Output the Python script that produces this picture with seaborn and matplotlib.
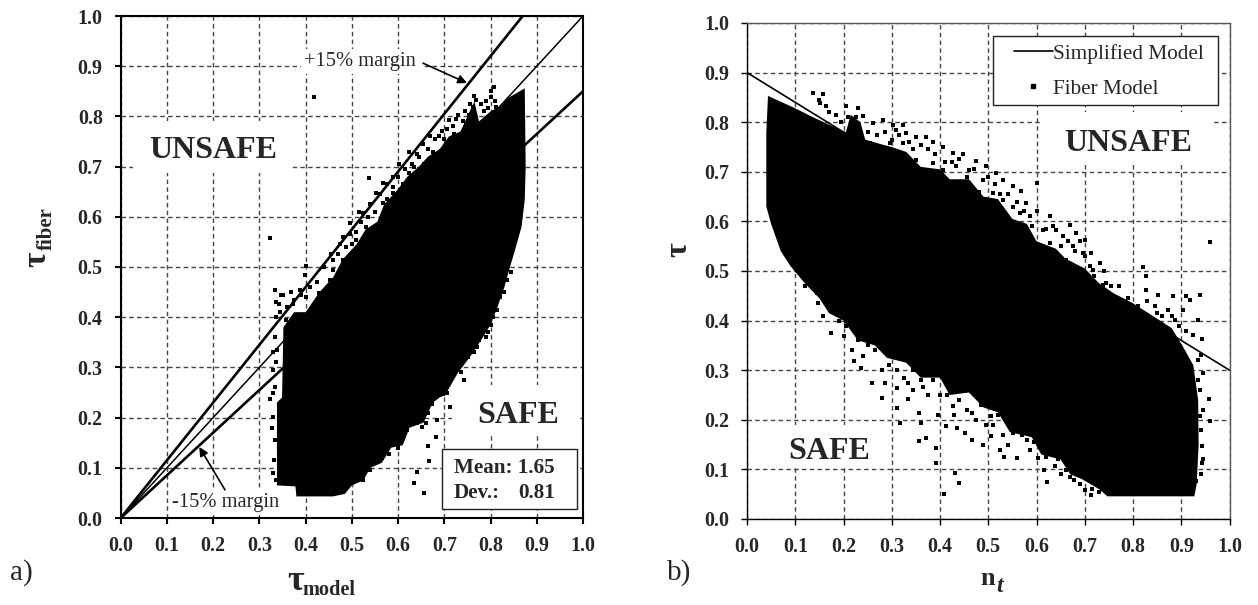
import matplotlib
matplotlib.use("Agg")
import matplotlib.pyplot as plt
from matplotlib.patches import Rectangle
import seaborn as sns

# panel a) outline of the solid black cloud
cloud_a_x = [0.338, 0.338, 0.349, 0.352, 0.375, 0.40, 0.43, 0.46, 0.48, 0.51, 0.53, 0.555, 0.57, 0.60, 0.62,
             0.645, 0.665, 0.69, 0.71, 0.735, 0.75, 0.765, 0.775, 0.80, 0.82, 0.835, 0.874, 0.876, 0.874, 0.867,
             0.853, 0.842, 0.83, 0.815, 0.80, 0.78, 0.755, 0.73, 0.705, 0.675, 0.655, 0.625, 0.61, 0.585, 0.565,
             0.54, 0.525, 0.50, 0.485, 0.459, 0.38, 0.378]
cloud_a_y = [0.065, 0.23, 0.24, 0.38, 0.41, 0.41, 0.45, 0.48, 0.515, 0.545, 0.575, 0.59, 0.625, 0.655, 0.68,
             0.70, 0.72, 0.735, 0.76, 0.77, 0.80, 0.83, 0.79, 0.81, 0.82, 0.835, 0.856, 0.70, 0.634, 0.58,
             0.534, 0.50, 0.46, 0.42, 0.385, 0.355, 0.32, 0.29, 0.25, 0.23, 0.19, 0.18, 0.145, 0.14, 0.11,
             0.10, 0.075, 0.065, 0.048, 0.043, 0.043, 0.063]

# panel a) loose points round the cloud
pts_a_x = [0.418, 0.538, 0.322, 0.808, 0.801, 0.811, 0.794, 0.768, 0.761, 0.754, 0.772, 0.729, 0.711, 0.696, 0.747,
           0.718, 0.668, 0.654, 0.689, 0.624, 0.603, 0.631, 0.646, 0.589, 0.624, 0.567, 0.553, 0.589, 0.567, 0.524,
           0.495, 0.531, 0.481, 0.509, 0.488, 0.459, 0.481, 0.401, 0.398, 0.452, 0.43, 0.333, 0.347, 0.369, 0.387,
           0.401, 0.342, 0.372, 0.334, 0.338, 0.33, 0.334, 0.322, 0.33, 0.334, 0.332, 0.335, 0.357, 0.813, 0.805,
           0.794, 0.77, 0.751, 0.736, 0.743, 0.728, 0.713, 0.685, 0.681, 0.664, 0.666, 0.641, 0.635, 0.655, 0.697,
           0.674, 0.651, 0.628, 0.604, 0.581, 0.558, 0.535, 0.527, 0.525, 0.481,
           0.36, 0.375, 0.39, 0.41, 0.425, 0.44, 0.46, 0.455, 0.47, 0.475, 0.495, 0.51, 0.50, 0.52, 0.515,
           0.535, 0.54, 0.55, 0.56, 0.575, 0.575, 0.59, 0.60, 0.61, 0.615, 0.635, 0.64, 0.655, 0.665, 0.675,
           0.68, 0.70, 0.705, 0.72, 0.725, 0.74, 0.745, 0.755, 0.765, 0.78, 0.785, 0.80, 0.81, 0.79,
           0.50, 0.51, 0.53, 0.54, 0.55, 0.565, 0.575, 0.59, 0.585, 0.60, 0.61, 0.62, 0.625, 0.64, 0.65,
           0.655, 0.665, 0.675, 0.69, 0.70, 0.715, 0.72, 0.735, 0.745, 0.76, 0.775, 0.785, 0.80, 0.81, 0.82,
           0.83, 0.835, 0.845, 0.79, 0.765, 0.705, 0.66, 0.61,
           0.335, 0.345, 0.33, 0.337, 0.328, 0.33, 0.33, 0.335, 0.35]
pts_a_y = [0.839, 0.678, 0.558, 0.859, 0.839, 0.819, 0.816, 0.833, 0.819, 0.803, 0.786, 0.803, 0.793, 0.77, 0.783,
           0.78, 0.76, 0.746, 0.76, 0.73, 0.706, 0.706, 0.72, 0.68, 0.687, 0.667, 0.647, 0.647, 0.627, 0.607,
           0.587, 0.58, 0.56, 0.554, 0.54, 0.514, 0.514, 0.501, 0.484, 0.474, 0.448, 0.454, 0.444, 0.451, 0.454,
           0.441, 0.427, 0.427, 0.36, 0.334, 0.294, 0.261, 0.238, 0.201, 0.155, 0.115, 0.075, 0.394, 0.414, 0.4,
           0.37, 0.341, 0.321, 0.291, 0.274, 0.244, 0.221, 0.195, 0.161, 0.143, 0.114, 0.092, 0.07, 0.05, 0.248,
           0.228, 0.181, 0.188, 0.155, 0.128, 0.125, 0.128, 0.095, 0.075, 0.055,
           0.42, 0.435, 0.445, 0.46, 0.47, 0.50, 0.495, 0.525, 0.525, 0.545, 0.565, 0.57, 0.545, 0.59, 0.61,
           0.60, 0.625, 0.61, 0.645, 0.635, 0.665, 0.66, 0.68, 0.665, 0.695, 0.70, 0.725, 0.705, 0.735, 0.73,
           0.755, 0.755, 0.775, 0.765, 0.795, 0.79, 0.81, 0.825, 0.84, 0.825, 0.81, 0.85, 0.83, 0.83,
           0.07, 0.085, 0.105, 0.095, 0.13, 0.12, 0.14, 0.15, 0.175, 0.14, 0.18, 0.175, 0.21, 0.19, 0.20,
           0.235, 0.21, 0.25, 0.245, 0.265, 0.28, 0.30, 0.315, 0.33, 0.345, 0.355, 0.38, 0.385, 0.43, 0.44,
           0.45, 0.475, 0.49, 0.36, 0.33, 0.25, 0.19, 0.16,
           0.40, 0.41, 0.33, 0.31, 0.18, 0.09, 0.25, 0.43, 0.445]

# panel b) outline of the solid black cloud
cloud_b_x = [0.0435, 0.10, 0.137, 0.17, 0.205, 0.215, 0.235, 0.245, 0.28, 0.30, 0.33, 0.36, 0.40, 0.42, 0.46,
             0.49, 0.52, 0.55, 0.58, 0.60, 0.64, 0.66, 0.70, 0.73, 0.76, 0.80, 0.84, 0.88, 0.905, 0.925,
             0.935, 0.936, 0.932, 0.927, 0.747, 0.73, 0.695, 0.67, 0.65, 0.61, 0.59, 0.545, 0.52, 0.49, 0.46,
             0.42, 0.40, 0.36, 0.33, 0.29, 0.265, 0.23, 0.20, 0.17, 0.15, 0.12, 0.09, 0.07, 0.05, 0.04, 0.04]
cloud_b_y = [0.853, 0.828, 0.81, 0.795, 0.78, 0.815, 0.80, 0.765, 0.755, 0.75, 0.74, 0.71, 0.705, 0.685, 0.685,
             0.65, 0.645, 0.605, 0.595, 0.56, 0.545, 0.525, 0.505, 0.475, 0.455, 0.435, 0.41, 0.385, 0.345, 0.31,
             0.24, 0.15, 0.07, 0.0457, 0.0457, 0.06, 0.08, 0.09, 0.12, 0.13, 0.165, 0.175, 0.215, 0.225, 0.255,
             0.25, 0.285, 0.285, 0.315, 0.325, 0.35, 0.36, 0.40, 0.415, 0.445, 0.475, 0.51, 0.54, 0.595, 0.63, 0.778]

# panel b) loose points round the cloud
pts_b_x = [0.137, 0.157, 0.151, 0.164, 0.185, 0.206, 0.23, 0.24, 0.22, 0.261, 0.282, 0.302, 0.323, 0.309, 0.33,
           0.351, 0.371, 0.385, 0.406, 0.427, 0.448, 0.475, 0.496, 0.517, 0.53, 0.551, 0.568, 0.579, 0.6, 0.627,
           0.669, 0.682, 0.7, 0.713, 0.731, 0.744, 0.772, 0.82, 0.827, 0.827, 0.851, 0.883, 0.91, 0.938, 0.96,
           0.254, 0.296, 0.323, 0.351, 0.385, 0.406, 0.434, 0.461, 0.461, 0.489, 0.51, 0.53, 0.551, 0.537, 0.565,
           0.586, 0.613, 0.641, 0.655, 0.627, 0.675, 0.696, 0.662, 0.717, 0.682, 0.738,
           0.147, 0.158, 0.174, 0.201, 0.217, 0.221, 0.24, 0.236, 0.26, 0.287, 0.279, 0.31, 0.31, 0.318, 0.334,
           0.357, 0.361, 0.357, 0.371, 0.392, 0.392, 0.431, 0.439, 0.408, 0.396, 0.412, 0.435, 0.451, 0.466, 0.49,
           0.505, 0.525, 0.533, 0.56, 0.552, 0.587, 0.603, 0.615, 0.622, 0.638, 0.661, 0.677, 0.7, 0.712, 0.334,
           0.365, 0.427, 0.466, 0.505, 0.942, 0.946, 0.958, 0.959, 0.942, 0.938, 0.934, 0.942, 0.938, 0.934, 0.931,
           0.927, 0.919, 0.888, 0.849, 0.817, 0.872, 0.903,
           0.15, 0.17, 0.195, 0.21, 0.225, 0.25, 0.27, 0.285, 0.30, 0.315, 0.335, 0.345, 0.36, 0.375, 0.39,
           0.41, 0.425, 0.44, 0.455, 0.47, 0.48, 0.50, 0.515, 0.525, 0.54, 0.56, 0.575, 0.59, 0.60, 0.62,
           0.635, 0.65, 0.665, 0.68, 0.69, 0.70, 0.71, 0.72, 0.74, 0.755, 0.77, 0.79, 0.81, 0.83, 0.845,
           0.86, 0.88, 0.895, 0.91, 0.925, 0.94, 0.935, 0.945, 0.94, 0.945, 0.94,
           0.12, 0.13, 0.145, 0.165, 0.19, 0.205, 0.23, 0.25, 0.265, 0.28, 0.295, 0.31, 0.325, 0.345, 0.345,
           0.36, 0.375, 0.385, 0.40, 0.415, 0.43, 0.44, 0.455, 0.475, 0.485, 0.495, 0.51, 0.52, 0.53, 0.54,
           0.57, 0.58, 0.595, 0.62, 0.645, 0.65, 0.67, 0.69, 0.715, 0.73]
pts_b_y = [0.859, 0.857, 0.839, 0.832, 0.815, 0.832, 0.829, 0.812, 0.792, 0.798, 0.805, 0.795, 0.795, 0.785, 0.778,
           0.771, 0.771, 0.761, 0.751, 0.738, 0.735, 0.721, 0.711, 0.698, 0.684, 0.671, 0.661, 0.637, 0.677, 0.61,
           0.593, 0.577, 0.563, 0.536, 0.516, 0.476, 0.469, 0.509, 0.489, 0.462, 0.452, 0.449, 0.449, 0.452, 0.558,
           0.758, 0.758, 0.758, 0.724, 0.718, 0.704, 0.711, 0.704, 0.677, 0.684, 0.657, 0.644, 0.63, 0.61, 0.617,
           0.61, 0.583, 0.583, 0.57, 0.556, 0.55, 0.536, 0.523, 0.503, 0.509, 0.472,
           0.435, 0.409, 0.375, 0.368, 0.341, 0.318, 0.328, 0.304, 0.274, 0.274, 0.244, 0.264, 0.224, 0.194, 0.241,
           0.214, 0.194, 0.157, 0.163, 0.143, 0.113, 0.093, 0.073, 0.051, 0.21, 0.187, 0.183, 0.173, 0.16, 0.15,
           0.167, 0.14, 0.126, 0.123, 0.173, 0.14, 0.123, 0.099, 0.074, 0.106, 0.099, 0.079, 0.059, 0.049, 0.274,
           0.267, 0.227, 0.214, 0.207, 0.113, 0.294, 0.241, 0.197, 0.362, 0.261, 0.402, 0.147, 0.207, 0.321, 0.076,
           0.254, 0.442, 0.402, 0.415, 0.402, 0.422, 0.422,
           0.845, 0.82, 0.80, 0.81, 0.81, 0.78, 0.775, 0.78, 0.765, 0.775, 0.76, 0.745, 0.755, 0.745, 0.735,
           0.72, 0.72, 0.725, 0.69, 0.705, 0.66, 0.69, 0.675, 0.655, 0.655, 0.64, 0.62, 0.59, 0.62, 0.585,
           0.59, 0.55, 0.56, 0.54, 0.56, 0.53, 0.51, 0.49, 0.50, 0.47, 0.44, 0.445, 0.43, 0.44, 0.43,
           0.41, 0.41, 0.39, 0.38, 0.37, 0.33, 0.28, 0.22, 0.18, 0.12, 0.09,
           0.47, 0.48, 0.455, 0.44, 0.40, 0.39, 0.36, 0.35, 0.34, 0.30, 0.31, 0.30, 0.285, 0.30, 0.26,
           0.28, 0.25, 0.28, 0.25, 0.25, 0.21, 0.24, 0.22, 0.20, 0.23, 0.19, 0.19, 0.21, 0.17, 0.15,
           0.17, 0.16, 0.155, 0.125, 0.12, 0.09, 0.085, 0.07, 0.06, 0.055]

# reference lines
line_x = [0.0, 1.0]
upper_y = [0.0, 1.15]
middle_y = [0.0, 1.0]
lower_y = [0.0, 0.85]
simplified_x = [0.0, 1.0]
simplified_y = [0.9, 0.3]

tick_values = [0.0, 0.1, 0.2, 0.3, 0.4, 0.5, 0.6, 0.7, 0.8, 0.9, 1.0]

W, H = 1258, 605

sns.set_style("white")
plt.rcParams["font.family"] = ["Liberation Serif", "DejaVu Serif"]

fig = plt.figure(figsize=(W / 100, H / 100), dpi=100)


def make_axes(left, right, top, bottom):
    return fig.add_axes([left / W, 1 - bottom / H, (right - left) / W, (bottom - top) / H])


def style_axes(ax, spine_width):
    ax.set_xlim(0, 1)
    ax.set_ylim(0, 1)
    ax.set_xticks(tick_values)
    ax.set_yticks(tick_values)
    ax.set_xticklabels([f"{v:.1f}" for v in tick_values], fontsize=14.4, fontweight="bold")
    ax.set_yticklabels([f"{v:.1f}" for v in tick_values], fontsize=14.4, fontweight="bold")
    ax.grid(True, color="#444444", linestyle=(0, (3.2, 2.4)), linewidth=1.0)
    ax.set_axisbelow(True)
    ax.tick_params(axis="x", bottom=True, length=4, width=spine_width, pad=9, color="black")
    ax.tick_params(axis="y", left=True, length=4, width=spine_width, pad=9, color="black")
    for s in ax.spines.values():
        s.set_color("black")
        s.set_linewidth(spine_width)
    ax.set_xlabel("")
    ax.set_ylabel("")


def draw_points(ax, xs, ys):
    sns.scatterplot(x=xs, y=ys, ax=ax, marker="s", s=7, color="black", linewidth=0, legend=False)


def blank(ax, x0, y0, x1, y1, zorder=1):
    # white patch that hides the grid behind a label
    ax.add_patch(Rectangle((x0, y0), x1 - x0, y1 - y0, facecolor="white", edgecolor="none", zorder=zorder))


# panel a
ax_a = make_axes(120.7, 583, 16, 518)
sns.lineplot(x=line_x, y=upper_y, ax=ax_a, color="black", linewidth=1.9, errorbar=None)
sns.lineplot(x=line_x, y=middle_y, ax=ax_a, color="black", linewidth=1.1, errorbar=None)
sns.lineplot(x=line_x, y=lower_y, ax=ax_a, color="black", linewidth=1.9, errorbar=None)
ax_a.fill(cloud_a_x, cloud_a_y, color="black", linewidth=0, zorder=3)
draw_points(ax_a, pts_a_x, pts_a_y)
style_axes(ax_a, 1.5)

blank(ax_a, 0.027, 0.687, 0.373, 0.79)
blank(ax_a, 0.716, 0.165, 0.99, 0.265)
blank(ax_a, 0.39, 0.885, 0.655, 0.935)
ax_a.text(0.061, 0.733, "UNSAFE", fontsize=23, fontweight="bold", ha="left", va="center", zorder=4)
ax_a.text(0.771, 0.205, "SAFE", fontsize=23, fontweight="bold", ha="left", va="center", zorder=4)
ax_a.text(0.396, 0.91, "+15% margin", fontsize=14.8, va="center", zorder=4)
ax_a.annotate("", xy=(0.749, 0.8665), xytext=(0.654, 0.906),
              arrowprops=dict(arrowstyle="-|>", color="black", lw=1.2, shrinkA=0, shrinkB=0, mutation_scale=13))
blank(ax_a, 0.105, 0.005, 0.35, 0.055)
ax_a.text(0.111, 0.03, "-15% margin", fontsize=14.8, va="center", zorder=4)
ax_a.annotate("", xy=(0.17, 0.1414), xytext=(0.2256, 0.056),
              arrowprops=dict(arrowstyle="-|>", color="black", lw=1.2, shrinkA=0, shrinkB=0, mutation_scale=13))
ax_a.add_patch(Rectangle((0.695, 0.018), 0.292, 0.119, facecolor="white", edgecolor="#222222", linewidth=1.0, zorder=3.5))
ax_a.text(0.72, 0.0996, "Mean: 1.65", fontsize=15.2, fontweight="bold", va="center", zorder=4)
ax_a.text(0.72, 0.05, "Dev.:", fontsize=15.2, fontweight="bold", va="center", zorder=4)
ax_a.text(0.859, 0.05, "0.81", fontsize=15.2, fontweight="bold", va="center", zorder=4)

# panel b
ax_b = make_axes(747, 1229.5, 23, 519)
ax_b.fill(cloud_b_x, cloud_b_y, color="black", linewidth=0, zorder=3)
draw_points(ax_b, pts_b_x, pts_b_y)
sns.lineplot(x=simplified_x, y=simplified_y, ax=ax_b, color="black", linewidth=1.2, errorbar=None, zorder=2)
style_axes(ax_b, 1.0)
for side in ("top", "right"):
    ax_b.spines[side].set_color("#555555")

blank(ax_b, 0.613, 0.715, 0.963, 0.82)
blank(ax_b, 0.06, 0.105, 0.28, 0.19)
ax_b.text(0.658, 0.757, "UNSAFE", fontsize=23, fontweight="bold", ha="left", va="center", zorder=4)
ax_b.text(0.086, 0.136, "SAFE", fontsize=23, fontweight="bold", ha="left", va="center", zorder=4)

# legend box is wider than the entries, so the frame is drawn apart
ax_b.add_patch(Rectangle((0.51, 0.8347), 0.466, 0.1391, facecolor="white", edgecolor="#222222", linewidth=1.0, zorder=4.5))
handles = [plt.Line2D([], [], color="black", linewidth=1.2),
           plt.Line2D([], [], color="black", marker="s", markersize=2.6, linestyle="none")]
leg = ax_b.legend(handles, ["Simplified Model", "Fiber Model"], loc="upper left", bbox_to_anchor=(0.553, 0.958),
                  prop=dict(size=15.3), frameon=False, borderaxespad=0, borderpad=0, handlelength=1.84,
                  handletextpad=0.0, labelspacing=0.72)
leg.set_zorder(5)

# axis titles and panel letters
fig.text(287 / W, 1 - 590 / H, "τ", fontsize=26, fontweight="bold", ha="left", va="baseline")
fig.text(302 / W, 1 - 595 / H, "model", fontsize=14.6, fontweight="bold", ha="left", va="baseline")
fig.text(45 / W, 1 - 267 / H, "τ", fontsize=24, fontweight="bold", rotation=90, rotation_mode="anchor", ha="left", va="baseline")
fig.text(52 / W, 1 - 250 / H, "fiber", fontsize=15, fontweight="bold", rotation=90, rotation_mode="anchor", ha="left", va="baseline")
fig.text(686 / W, 1 - 257 / H, "τ", fontsize=23, fontweight="bold", rotation=90, rotation_mode="anchor", ha="left", va="baseline")
fig.text(980.5 / W, 1 - 585 / H, "n", fontsize=19, fontweight="bold", ha="left", va="baseline")
fig.text(996 / W, 1 - 592 / H, "t", fontsize=17, fontweight="bold", fontstyle="italic", ha="left", va="baseline")
fig.text(10 / W, 1 - 580 / H, "a)", fontsize=21, ha="left", va="baseline")
fig.text(667 / W, 1 - 580 / H, "b)", fontsize=21, ha="left", va="baseline")

fig.savefig("out.png", dpi=100)
